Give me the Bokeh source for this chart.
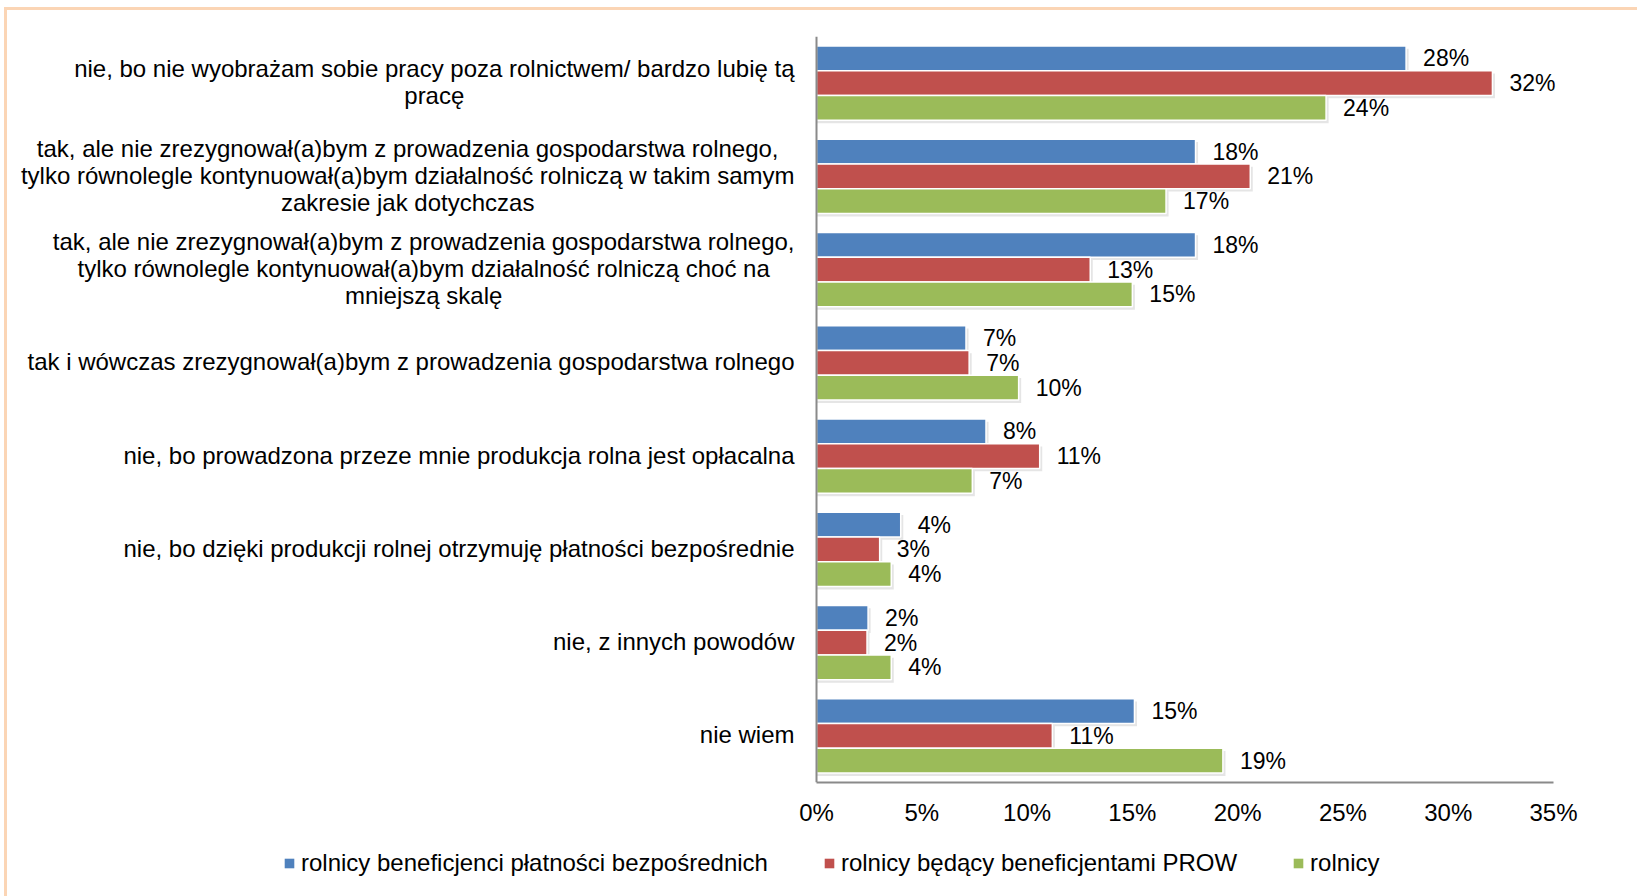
from bokeh.plotting import figure
from bokeh.layouts import column
from bokeh.models import (Range1d, FixedTicker, PrintfTickFormatter, Legend,
                          LegendItem, ColumnDataSource, Span)
from bokeh.core.properties import value
from bokeh.embed import file_html
from bokeh.resources import INLINE

categories = [
    "nie, bo nie wyobrażam sobie pracy poza rolnictwem/ bardzo lubię tą\npracę",
    "tak, ale nie zrezygnował(a)bym z prowadzenia gospodarstwa rolnego,\ntylko równolegle kontynuował(a)bym działalność rolniczą w takim samym\nzakresie jak dotychczas",
    "tak, ale nie zrezygnował(a)bym z prowadzenia gospodarstwa rolnego,\ntylko równolegle kontynuował(a)bym działalność rolniczą choć na\nmniejszą skalę",
    "tak i wówczas zrezygnował(a)bym z prowadzenia gospodarstwa rolnego",
    "nie, bo prowadzona przeze mnie produkcja rolna jest opłacalna",
    "nie, bo dzięki produkcji rolnej otrzymuję płatności bezpośrednie",
    "nie, z innych powodów",
    "nie wiem",
]
series_names = [
    "rolnicy beneficjenci płatności bezpośrednich",
    "rolnicy będący beneficjentami PROW",
    "rolnicy",
]
blue_values = [28.0, 18.0, 18.0, 7.1, 8.05, 4.0, 2.45, 15.1]
red_values = [32.1, 20.6, 13.0, 7.25, 10.6, 3.0, 2.4, 11.2]
green_values = [24.2, 16.6, 15.0, 9.6, 7.4, 3.55, 3.55, 19.3]
x_ticks = [0, 5, 10, 15, 20, 25, 30, 35]

colors = ["#4F81BD", "#C0504D", "#9BBB59"]
FONT_NAME = "Liberation Sans"
FONT = value(FONT_NAME)

n = len(categories)
centers = [n - i - 0.5 for i in range(n)]
bar_h = 0.266

# layout (screen px)
W = 1630
H1, H2 = 822, 64
label_px = 809          # canvas px left of the value axis
right_px = 84           # canvas px right of the last tick
bar_px = W - label_px - right_px
x_max = x_ticks[-1]
px_per_unit = bar_px / x_max
x_min = -label_px / px_per_unit
x_end = x_max + right_px / px_per_unit

p = figure(width=W, height=H1, x_range=Range1d(x_min, x_end), y_range=Range1d(0, n),
           output_backend="svg", toolbar_location=None,
           min_border_left=0, min_border_right=0, min_border_top=26, min_border_bottom=50)
p.xgrid.visible = False
p.ygrid.visible = False
p.outline_line_color = None
p.background_fill_color = "white"
p.yaxis.visible = False

# x axis
p.xaxis.bounds = (0, x_max)
p.xaxis.ticker = FixedTicker(ticks=x_ticks)
p.xaxis.formatter = PrintfTickFormatter(format="%d%%")
p.xaxis.major_tick_line_color = None
p.xaxis.minor_tick_line_color = None
p.xaxis.major_tick_out = 0
p.xaxis.major_tick_in = 0
p.xaxis.major_label_standoff = 16
p.xaxis.major_label_text_font = FONT_NAME
p.xaxis.major_label_text_font_size = "24px"
p.xaxis.major_label_text_color = "#000000"
p.xaxis.axis_line_color = "#8A8A8A"
p.xaxis.axis_line_width = 2

# category axis line
p.add_layout(Span(location=0, dimension="height", line_color="#8A8A8A", line_width=2))

for k, (vals, col) in enumerate(zip([blue_values, red_values, green_values], colors)):
    off = (1 - k) * bar_h
    ys = [c + off for c in centers]
    src = ColumnDataSource(dict(y=ys, right=vals,
                                lab=[f"{round(v)}%" for v in vals]))
    sh = ColumnDataSource(dict(y=[y - 0.03 for y in ys], right=[v + 0.12 for v in vals]))
    p.hbar(y="y", right="right", left=0, height=bar_h, source=sh,
           fill_color="#7F7F7F", fill_alpha=0.2, line_color=None)
    p.hbar(y="y", right="right", left=0, height=bar_h, source=src,
           fill_color=col, line_color="white", line_width=1.5)
    p.text(x="right", y="y", text="lab", source=src, x_offset=17,
           text_align="left", text_baseline="middle", text_font=FONT,
           text_font_size="23px", text_color="#000000")

cat_src = ColumnDataSource(dict(x=[0] * n, y=centers, t=categories))
p.text(x="x", y="y", text="t", source=cat_src, x_offset=-22, y_offset=-1,
       anchor="center_right", text_align="center", text_baseline="middle", text_font=FONT,
       text_font_size="24px", text_line_height=1.0, text_color="#000000")

# legend strip
pl = figure(width=W, height=H2, x_range=Range1d(0, 1), y_range=Range1d(0, 1),
            output_backend="svg", toolbar_location=None,
            min_border_left=0, min_border_right=0, min_border_top=0, min_border_bottom=0)
pl.axis.visible = False
pl.grid.visible = False
pl.outline_line_color = None
items = []
for col, name in zip(colors, series_names):
    r = pl.hbar(y=[0], right=[0], left=[0], height=[1], fill_color=col, line_color=None)
    items.append(LegendItem(label=name, renderers=[r]))
legend = Legend(items=items, orientation="horizontal", location=(276, 19),
                glyph_width=12, glyph_height=12, label_standoff=6, spacing=55,
                padding=0, margin=0, border_line_color=None, background_fill_alpha=0,
                label_text_font=FONT_NAME, label_text_font_size="24px",
                label_text_color="#000000")
pl.add_layout(legend)

layout = column(p, pl, spacing=0)
layout.styles = {"margin-left": "4px", "margin-top": "7px",
                 "border-top": "3px solid #FBD5B5", "border-left": "3px solid #FBD5B5"}

open("out.html", "w").write(file_html(layout, INLINE))
